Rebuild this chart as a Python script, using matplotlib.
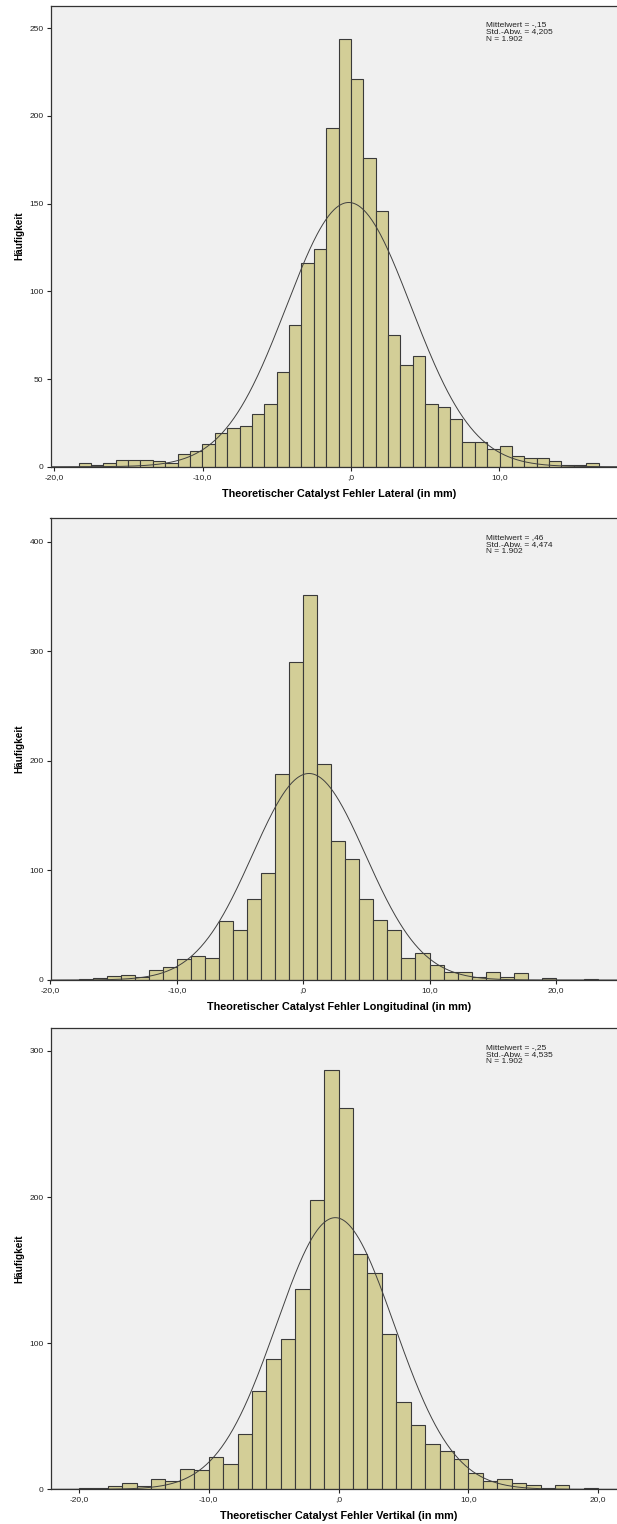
import numpy as np
import matplotlib
matplotlib.use('Agg')
import matplotlib.pyplot as plt
from matplotlib.ticker import FixedLocator, FuncFormatter

plt.rcParams['font.family'] = ['Liberation Sans', 'DejaVu Sans']

# ---------------------------------------------------------------------------
# Data (counts per bin)
lat_start, lat_width = -18.37, 0.835
lat_counts = [2, 1, 2, 4, 4, 4, 3, 2, 7, 9,
              13, 19, 22, 23, 30, 36, 54, 81, 116, 124,
              193, 244, 221, 176, 146, 75, 58, 63, 36, 34,
              27, 14, 14, 10, 12, 6, 5, 5, 3, 1,
              1, 2]
lat_stats = (-0.15, 4.205, 1902)
lat_label = 'Theoretischer Catalyst Fehler Lateral (in mm)'
lat_text = 'Mittelwert = -,15\nStd.-Abw. = 4,205\nN = 1.902'

lon_start, lon_width = -17.778, 1.1111
lon_counts = [1, 2, 4, 5, 3, 9, 12, 19, 22, 20,
              54, 46, 74, 98, 188, 290, 351, 197, 127, 110,
              74, 55, 46, 20, 25, 14, 7, 7, 3, 7,
              3, 6, 0, 2, 0, 0, 1]
lon_stats = (0.46, 4.474, 1902)
lon_label = 'Theoretischer Catalyst Fehler Longitudinal (in mm)'
lon_text = 'Mittelwert = ,46\nStd.-Abw. = 4,474\nN = 1.902'

ver_start, ver_width = -20.0, 1.1111
ver_counts = [1, 1, 2, 4, 2, 7, 6, 14, 13, 22,
              17, 38, 67, 89, 103, 137, 198, 287, 261, 161,
              148, 106, 60, 44, 31, 26, 21, 11, 6, 7,
              4, 3, 1, 3, 0, 1]
ver_stats = (-0.25, 4.535, 1902)
ver_label = 'Theoretischer Catalyst Fehler Vertikal (in mm)'
ver_text = 'Mittelwert = -,25\nStd.-Abw. = 4,535\nN = 1.902'

# ---------------------------------------------------------------------------
# Plot parameters
bar_face = '#D3CE97'
bar_edge = '#3a3a3a'
bg_color = '#F0F0F0'
W, H = 617, 1524


def fmt_x(v, pos):
    s = '%.1f' % v
    s = s.replace('.', ',')
    if s.startswith('0,'):
        s = s[1:]
    if s.startswith('-0,'):
        s = '-' + s[2:]
    return s


def panel(top_px, bottom_px, xlim, ylim, yticks, start, width, counts,
          stats, xlabel, stat_text):
    left_px = 50.5
    ax = fig.add_axes([left_px / W, 1 - bottom_px / H,
                       (W - left_px) / W, (bottom_px - top_px) / H])
    ax.set_facecolor(bg_color)
    edges = start + width * np.arange(len(counts) + 1)
    ax.bar(edges[:-1], counts, width=width, align='edge',
           facecolor=bar_face, edgecolor=bar_edge, linewidth=0.8, zorder=2)
    mean, std, n = stats
    xs = np.linspace(xlim[0], xlim[1], 600)
    ys = n * width / (std * np.sqrt(2 * np.pi)) * np.exp(-0.5 * ((xs - mean) / std) ** 2)
    ax.plot(xs, ys, color='#404040', linewidth=0.7, zorder=3)
    ax.set_xlim(*xlim)
    ax.set_ylim(*ylim)
    ax.xaxis.set_major_locator(FixedLocator([-20, -10, 0, 10, 20]))
    ax.xaxis.set_major_formatter(FuncFormatter(fmt_x))
    ax.yaxis.set_major_locator(FixedLocator(yticks))
    ax.tick_params(axis='both', direction='out', length=3, width=0.8,
                   labelsize=6, pad=2, colors='#222222')
    for sp in ['left', 'bottom', 'top']:
        ax.spines[sp].set_color('#333333')
        ax.spines[sp].set_linewidth(0.9)
    ax.spines['right'].set_visible(False)
    ax.set_xlabel(xlabel, fontsize=7.8, fontweight='bold')
    ax.xaxis.set_label_coords(0.509, -22.0 / (bottom_px - top_px))
    fig.text(19.5 / W, 1 - (top_px + bottom_px) / 2 / H, 'Häufigkeit',
             rotation=90, ha='center', va='center', fontsize=7.2,
             fontweight='bold')
    ax.text((486 - left_px) / (W - left_px), 1 - 15.5 / (bottom_px - top_px),
            stat_text, transform=ax.transAxes, ha='left', va='top',
            fontsize=6, linespacing=1.05, color='#222222')
    return ax


fig = plt.figure(figsize=(W / 100, H / 100), dpi=100)
fig.patch.set_facecolor('white')

panel(5.7, 466.7, (-20.26, 17.94), (0, 262.9), [0, 50, 100, 150, 200, 250],
      lat_start, lat_width, lat_counts, lat_stats, lat_label, lat_text)
panel(518.3, 980.0, (-20.0, 24.84), (0, 421.3), [0, 100, 200, 300, 400],
      lon_start, lon_width, lon_counts, lon_stats, lon_label, lon_text)
panel(1028.3, 1489.3, (-22.18, 21.44), (0, 315.5), [0, 100, 200, 300],
      ver_start, ver_width, ver_counts, ver_stats, ver_label, ver_text)

plt.savefig('out.png', dpi=100)
